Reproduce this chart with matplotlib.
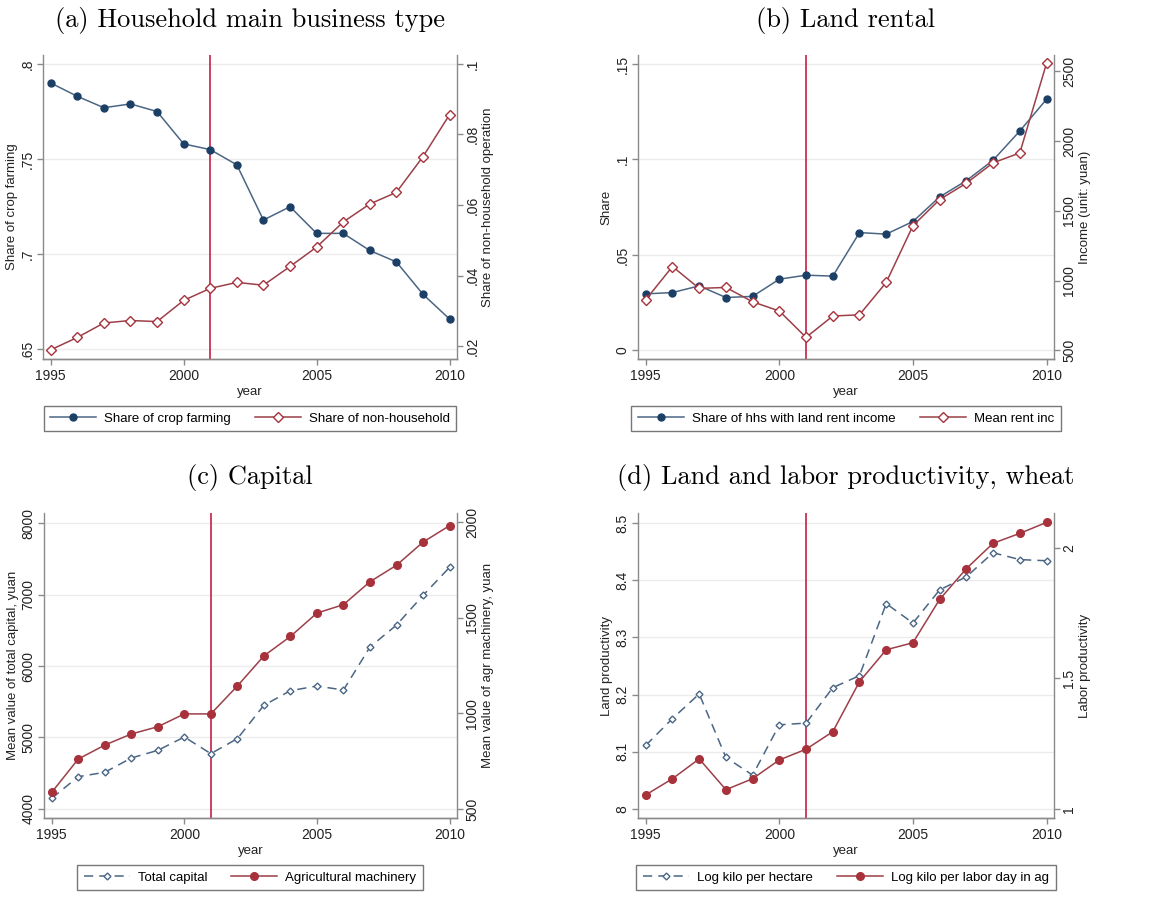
import matplotlib
matplotlib.use('Agg')
import matplotlib.pyplot as plt
from matplotlib.ticker import FuncFormatter

plt.rcParams['font.family'] = ['Liberation Sans', 'DejaVu Sans']

years = list(range(1995, 2011))

# (a) household main business type
crop_share = [0.790, 0.783, 0.777, 0.779, 0.775, 0.758, 0.755, 0.747,
              0.718, 0.725, 0.711, 0.711, 0.702, 0.696, 0.679, 0.666]
nonhh_share = [0.019, 0.0225, 0.0266, 0.0273, 0.0270, 0.0330, 0.0364, 0.0381,
               0.0373, 0.0426, 0.0481, 0.0552, 0.0603, 0.0636, 0.0737, 0.0856]

# (b) land rental
rent_share = [0.0296, 0.0303, 0.0338, 0.0277, 0.0283, 0.0373, 0.0394, 0.0389,
              0.0617, 0.0609, 0.0675, 0.0804, 0.0889, 0.0996, 0.1149, 0.1315]
rent_income = [863, 1101, 944, 951, 848, 782, 593, 746,
               755, 987, 1393, 1581, 1698, 1844, 1915, 2557]

# (c) capital
total_capital = [4149, 4452, 4513, 4713, 4820, 5007, 4774, 4984,
                 5450, 5655, 5720, 5664, 6266, 6573, 6988, 7380]
agr_machinery = [587, 761, 834, 892, 930, 997, 997, 1143,
                 1300, 1402, 1524, 1568, 1688, 1774, 1895, 1981]

# (d) productivity, wheat
land_prod = [8.111, 8.158, 8.201, 8.090, 8.059, 8.147, 8.150, 8.212,
             8.233, 8.359, 8.325, 8.383, 8.406, 8.448, 8.436, 8.434]
labor_prod = [1.054, 1.116, 1.192, 1.074, 1.116, 1.188, 1.229, 1.296,
              1.488, 1.610, 1.637, 1.803, 1.921, 2.018, 2.056, 2.098]

BLUE_LINE = '#4b6684'
BLUE_MK = '#1c3f66'
RED_LINE = '#9c3f48'
RED_MK = '#a8323c'
VLINE = '#cc2f55'
AXC = '#8a8a8a'

W, H = 1151, 907
fig = plt.figure(figsize=(W / 100, H / 100), dpi=100)


def stata_fmt(v, pos):
    s = '%g' % round(v, 6)
    if s.startswith('0.'):
        s = s[1:]
    return s


def make_axes(l, r, t, b):
    return fig.add_axes([l / W, 1 - b / H, (r - l) / W, (b - t) / H])


def style(ax, ax2, lticks, rticks, lylim, rylim, lylabel, rylabel):
    ax.set_xlim(1994.71, 2010.28)
    ax.set_xticks([1995, 2000, 2005, 2010])
    ax.set_ylim(*lylim)
    ax.set_yticks(lticks)
    ax2.set_ylim(*rylim)
    ax2.set_yticks(rticks)
    for a in (ax, ax2):
        a.yaxis.set_major_formatter(FuncFormatter(stata_fmt))
        a.spines['top'].set_visible(False)
        for s in a.spines.values():
            s.set_color(AXC)
            s.set_linewidth(1.0)
        a.tick_params(colors=AXC, labelcolor='#222222', labelsize=10,
                      length=4, width=1.0)
        a.tick_params(axis='y', pad=2, labelrotation=90)
    ax.spines['right'].set_visible(False)
    ax2.spines['left'].set_visible(False)
    for lab in ax.get_yticklabels() + ax2.get_yticklabels():
        lab.set_va('center')
    ax.grid(axis='y', color='#ececec', linewidth=1.0)
    ax.set_axisbelow(True)
    ax.axvline(2001, color=VLINE, linewidth=1.3, zorder=1)
    ax.set_xlabel('year', fontsize=9.5, labelpad=2, color='#222222')
    ax.set_ylabel(lylabel, fontsize=9.5, labelpad=2, color='#222222')
    ax2.set_ylabel(rylabel, fontsize=9.5, labelpad=2, color='#222222')


def legend(ax2, handles, cx, top):
    leg = ax2.legend(handles=handles, loc='upper center', ncol=2,
                     bbox_to_anchor=(cx / W, 1 - top / H),
                     bbox_transform=fig.transFigure, fontsize=9.5,
                     handlelength=3.5, handletextpad=0.6, columnspacing=1.8,
                     borderpad=0.5, borderaxespad=0.0,
                     fancybox=False, frameon=True)
    leg.get_frame().set_edgecolor('#555555')
    leg.get_frame().set_linewidth(1.0)


title_kw = dict(family='cmr10', fontsize=19, ha='center', va='center')

# ---- (a)
ax = make_axes(43, 457, 55, 359)
ax2 = ax.twinx()
h1, = ax.plot(years, crop_share, color=BLUE_LINE, lw=1.1, marker='o', ms=5,
              mfc=BLUE_MK, mec=BLUE_MK, label='Share of crop farming', zorder=3)
h2, = ax2.plot(years, nonhh_share, color=RED_LINE, lw=1.1, marker='D', ms=5,
               mfc='white', mec=RED_MK, mew=1.0, label='Share of non-household')
style(ax, ax2, [0.65, 0.7, 0.75, 0.8], [0.02, 0.04, 0.06, 0.08, 0.1],
      (0.645, 0.8047), (0.0164, 0.1025),
      'Share of crop farming', 'Share of non-household operation')
legend(ax2, [h1, h2], 250, 406)
fig.text(250 / W, 1 - 20 / H, '(a) Household main business type', **title_kw)

# ---- (b)
ax = make_axes(638, 1054, 55, 359)
ax2 = ax.twinx()
h1, = ax.plot(years, rent_share, color=BLUE_LINE, lw=1.1, marker='o', ms=5,
              mfc=BLUE_MK, mec=BLUE_MK, label='Share of hhs with land rent income', zorder=3)
h2, = ax2.plot(years, rent_income, color=RED_LINE, lw=1.1, marker='D', ms=5,
               mfc='white', mec=RED_MK, mew=1.0, label='Mean rent inc')
style(ax, ax2, [0, 0.05, 0.1, 0.15], [500, 1000, 1500, 2000, 2500],
      (-0.0045, 0.1547), (438, 2617), 'Share', 'Income (unit: yuan)')
legend(ax2, [h1, h2], 846, 406)
fig.text(846 / W, 1 - 20 / H, '(b) Land rental', **title_kw)

# ---- (c)
ax = make_axes(44, 457, 513, 818)
ax2 = ax.twinx()
h1, = ax.plot(years, total_capital, color=BLUE_LINE, lw=1.1, ls=(0, (6, 4)),
              marker='D', ms=3.5, mfc='white', mec=BLUE_LINE, mew=1.0,
              label='Total capital', zorder=3)
h2, = ax2.plot(years, agr_machinery, color=RED_LINE, lw=1.1, marker='o', ms=5.5,
               mfc=RED_MK, mec=RED_MK, label='Agricultural machinery')
style(ax, ax2, [4000, 5000, 6000, 7000, 8000], [500, 1000, 1500, 2000],
      (3874, 8140), (453, 2047),
      'Mean value of total capital, yuan', 'Mean value of agr machinery, yuan')
legend(ax2, [h1, h2], 250, 865)
fig.text(250 / W, 1 - 478 / H, '(c) Capital', **title_kw)

# ---- (d)
ax = make_axes(638, 1054, 513, 818)
ax2 = ax.twinx()
h1, = ax.plot(years, land_prod, color=BLUE_LINE, lw=1.1, ls=(0, (6, 4)),
              marker='D', ms=3.5, mfc='white', mec=BLUE_LINE, mew=1.0,
              label='Log kilo per hectare', zorder=3)
h2, = ax2.plot(years, labor_prod, color=RED_LINE, lw=1.1, marker='o', ms=5.5,
               mfc=RED_MK, mec=RED_MK, label='Log kilo per labor day in ag')
style(ax, ax2, [8, 8.1, 8.2, 8.3, 8.4, 8.5], [1, 1.5, 2],
      (7.984, 8.5175), (0.9655, 2.134), 'Land productivity', 'Labor productivity')
legend(ax2, [h1, h2], 846, 865)
fig.text(846 / W, 1 - 478 / H, '(d) Land and labor productivity, wheat', **title_kw)

fig.savefig('out.png', dpi=100, facecolor='white')
